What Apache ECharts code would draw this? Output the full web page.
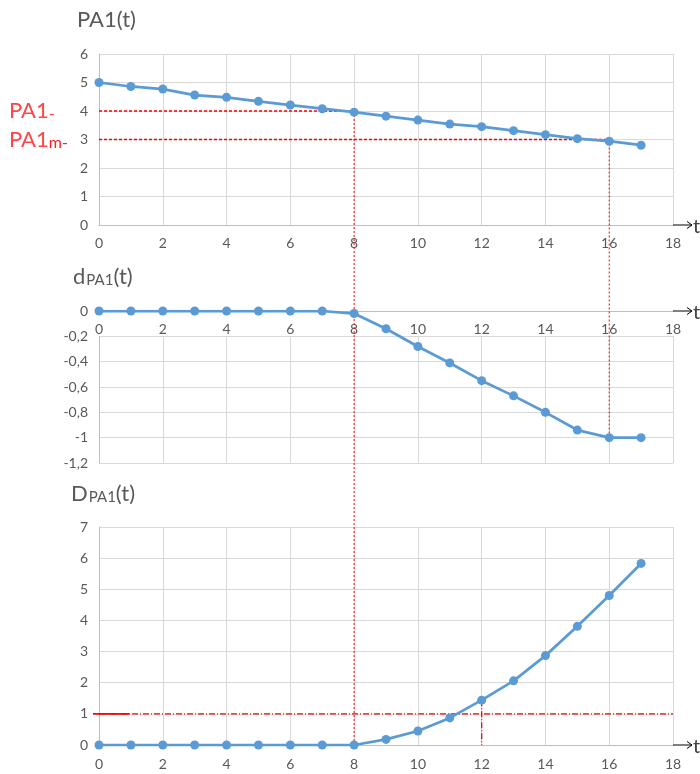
<!DOCTYPE html>
<html>
<head>
<meta charset="utf-8">
<title>PA1(t)</title>
<script src="https://cdn.jsdelivr.net/npm/echarts@6.0.0/dist/echarts.min.js"></script>
<style>
  html, body { margin: 0; padding: 0; background: #fff; }
  #main { width: 700px; height: 774px; }
</style>
</head>
<body>
<div id="main"></div>
<script>
// time steps
var tValues = [0, 1, 2, 3, 4, 5, 6, 7, 8, 9, 10, 11, 12, 13, 14, 15, 16, 17];
// PA1(t)
var pa1 = [5, 4.86, 4.77, 4.56, 4.48, 4.34, 4.21, 4.08, 3.96, 3.82, 3.68, 3.54, 3.45, 3.31, 3.17, 3.03, 2.94, 2.80];
// dPA1(t)
var dPa1 = [0, 0, 0, 0, 0, 0, 0, 0, -0.02, -0.14, -0.28, -0.41, -0.55, -0.67, -0.80, -0.94, -1.0, -1.0];
// DPA1(t)
var bigDPa1 = [0, 0, 0, 0, 0, 0, 0, 0, 0, 0.18, 0.45, 0.87, 1.44, 2.06, 2.87, 3.81, 4.80, 5.83];

// reference levels (red lines)
var pa1Level = 4, pa1Min = 3, tReach = 8, tMin = 16, dLevel = 1, tD = 12;

var gray = '#595959';
var font = 'Lato';
var blue = '#5b9bd5';
var red = '#ff0000';

function pairs(ys) {
    return tValues.map(function (t, i) { return [t, ys[i]]; });
}

function xAxisFor(gi, margin, onTop) {
    return {
        type: 'value', gridIndex: gi, min: 0, max: 18, interval: 2,
        position: onTop ? 'top' : 'bottom',
        axisLine: { show: true, onZero: false, lineStyle: { color: '#bfbfbf', width: 1 } },
        axisTick: { show: false },
        axisLabel: {
            color: gray, fontSize: 14, fontFamily: font, margin: margin,
            inside: !!onTop,
            lineHeight: 14,
            backgroundColor: onTop ? '#fff' : 'transparent',
            padding: onTop ? [10, 6, 0, 6] : 0
        },
        splitLine: { show: true, lineStyle: { color: '#d9d9d9', width: 1 } }
    };
}

function yAxisFor(gi, min, max, interval) {
    return {
        type: 'value', gridIndex: gi, min: min, max: max, interval: interval,
        axisLine: { show: true, onZero: false, lineStyle: { color: '#bfbfbf', width: 1 } },
        axisTick: { show: false },
        axisLabel: {
            color: gray, fontSize: 14, fontFamily: font, margin: 11,
            formatter: function (v) { return String(Math.round(v * 10) / 10).replace('.', ','); }
        },
        splitLine: { show: true, lineStyle: { color: '#d9d9d9', width: 1 } }
    };
}

function lineSeries(gi, ys) {
    return {
        type: 'line', xAxisIndex: gi, yAxisIndex: gi,
        data: pairs(ys),
        symbol: 'circle', symbolSize: 9,
        lineStyle: { color: blue, width: 2.75 },
        itemStyle: { color: blue },
        z: 3
    };
}

var titleText = { fontSize: 22, color: gray, fontWeight: 'normal', fontFamily: font };
var subText = { fontSize: 15, color: gray, fontWeight: 'normal', fontFamily: font, verticalAlign: 'bottom', padding: [0, 0, 0, 1] };

var option = {
    animation: false,
    backgroundColor: '#fff',
    title: [
        { left: 72, top: 4, text: 'PA1(t)', textStyle: titleText },
        {
            left: 68, top: 261, text: '{a|d}{s|PA1}{a|(t)}',
            textStyle: { fontWeight: 'normal', rich: { a: titleText, s: subText } }
        },
        {
            left: 66, top: 478, text: '{a|D}{s|PA1}{a|(t)}',
            textStyle: { fontWeight: 'normal', rich: { a: titleText, s: subText } }
        }
    ],
    grid: [
        { left: 99, right: 27, top: 54, height: 171 },
        { left: 99, right: 27, top: 311, height: 152 },
        { left: 99, right: 27, top: 527, height: 218 }
    ],
    xAxis: [xAxisFor(0, 11, false), xAxisFor(1, 1, true), xAxisFor(2, 12, false)],
    yAxis: [yAxisFor(0, 0, 6, 1), yAxisFor(1, -1.2, 0, 0.2), yAxisFor(2, 0, 7, 1)],
    series: [lineSeries(0, pa1), lineSeries(1, dPa1), lineSeries(2, bigDPa1)]
};

var myChart = echarts.init(document.getElementById('main'), null, { renderer: 'canvas' });
myChart.setOption(option);

// overlays placed through the chart's own axes
var g = [];
function px(gi, x, y) { return myChart.convertToPixel({ gridIndex: gi }, [x, y]); }
function seg(p, q, dash, w) {
    g.push({ type: 'line', shape: { x1: p[0], y1: p[1], x2: q[0], y2: q[1] },
        style: { stroke: red, lineWidth: w || 1, lineDash: dash }, z: 2 });
}

// red horizontals in the top panel
seg(px(0, 0, pa1Level), px(0, tReach, pa1Level), [3, 2], 1.3);
seg(px(0, 0, pa1Min), px(0, tMin, pa1Min), [3, 2], 1.3);
// red verticals crossing the panels
seg(px(0, tReach, pa1Level), px(2, tReach, 0), [2, 2], 1);
seg(px(0, tMin, pa1Min), px(1, tMin, -1), [2, 2], 1);
// bottom panel level and crossing
var e = px(2, 0, dLevel);
seg([e[0] - 6, e[1]], [e[0] + 30, e[1]], null, 1.6);
seg(px(2, 0, dLevel), px(2, 18, dLevel), [6, 2, 1, 2], 1.3);
seg(px(2, tD, bigDPa1[tD]), px(2, tD, 0), [6, 2, 1, 2], 1.3);

// red side labels
var l1 = px(0, 0, pa1Level), l2 = px(0, 0, pa1Min);
var redText = { fontSize: 22, fill: '#ff4545', fontFamily: font };
g.push({ type: 'text', x: 9, y: l1[1], z: 10, style: {
    text: '{a|PA1}{s|-}', verticalAlign: 'middle',
    rich: { a: redText, s: { fontSize: 16, fill: '#ff4545', fontFamily: font, verticalAlign: 'bottom' } } } });
g.push({ type: 'text', x: 9, y: l2[1], z: 10, style: {
    text: '{a|PA1}{s|m-}', verticalAlign: 'middle',
    rich: { a: redText, s: { fontSize: 16, fill: '#ff2020', fontFamily: font, verticalAlign: 'bottom' } } } });

// axis arrows
var yMax = [6, 0, 7];
for (var gi = 0; gi < 3; gi++) {
    var top = px(gi, 0, yMax[gi]);
    var tip = top[1] - 21;
    g.push({ type: 'line', shape: { x1: top[0], y1: top[1], x2: top[0], y2: tip },
        style: { stroke: '#000', lineWidth: 1 }, z: 10 });
    g.push({ type: 'polyline', shape: { points: [[top[0] - 3.5, tip + 5], [top[0], tip], [top[0] + 3.5, tip + 5]] },
        style: { stroke: '#000', lineWidth: 1, fill: null }, z: 10 });
    var end = px(gi, 18, 0);
    var xt = end[0] + 19;
    g.push({ type: 'line', shape: { x1: end[0], y1: end[1], x2: xt, y2: end[1] },
        style: { stroke: '#000', lineWidth: 1 }, z: 10 });
    g.push({ type: 'polyline', shape: { points: [[xt - 5, end[1] - 3.5], [xt, end[1]], [xt - 5, end[1] + 3.5]] },
        style: { stroke: '#000', lineWidth: 1, fill: null }, z: 10 });
    g.push({ type: 'text', x: xt + 1, y: end[1] + 2, z: 10,
        style: { text: 't', fontSize: 20, fill: '#404040', fontFamily: font, verticalAlign: 'middle' } });
}

myChart.setOption({ graphic: g });
</script>
</body>
</html>
